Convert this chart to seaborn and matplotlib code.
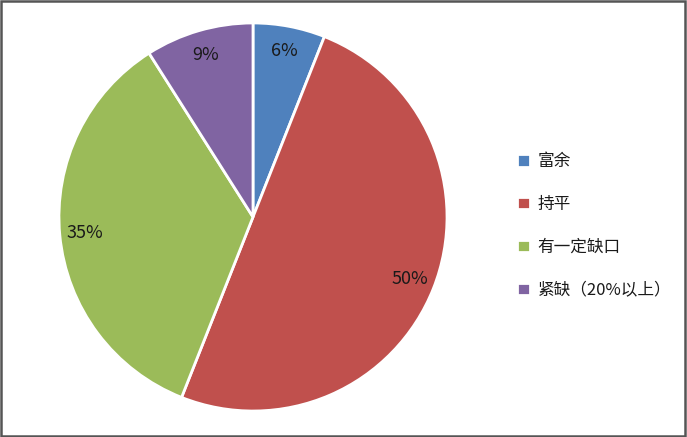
import matplotlib.pyplot as plt
import seaborn as sns
from matplotlib.patches import Rectangle

sns.set_theme(style="white")
plt.rcParams["font.family"] = ["Noto Sans CJK SC", "DejaVu Sans"]

# Data
categories = ["富余", "持平", "有一定缺口", "紧缺（20%以上）"]
shares = [6, 50, 35, 9]
colors = ["#4F81BD", "#C0504D", "#9BBB59", "#8064A2"]

fig = plt.figure(figsize=(6.87, 4.37), dpi=100)
ax = fig.add_axes([58 / 687, 25 / 437, 390 / 687, 390 / 437])

wedges, texts, autotexts = ax.pie(
    shares,
    colors=colors,
    startangle=90,
    counterclock=False,
    autopct="%d%%",
    pctdistance=0.87,
    wedgeprops={"edgecolor": "white", "linewidth": 2},
    textprops={"fontsize": 13, "color": "#1a1a1a"},
)
ax.set_aspect("equal")
ax.set_xlim(-1.005, 1.005)
ax.set_ylim(-1.005, 1.005)

fig.legend(
    wedges,
    categories,
    loc="center left",
    bbox_to_anchor=(502 / 687, 1 - 226 / 437),
    frameon=False,
    fontsize=12,
    handlelength=0.8,
    handleheight=0.75,
    handletextpad=0.45,
    labelspacing=1.55,
    labelcolor="#1a1a1a",
)

# Outer border
fig.patches.append(
    Rectangle((0.002, 0.003), 0.995, 0.994, transform=fig.transFigure,
              fill=False, edgecolor="#555555", linewidth=1.8)
)

fig.savefig("out.png", dpi=100)
